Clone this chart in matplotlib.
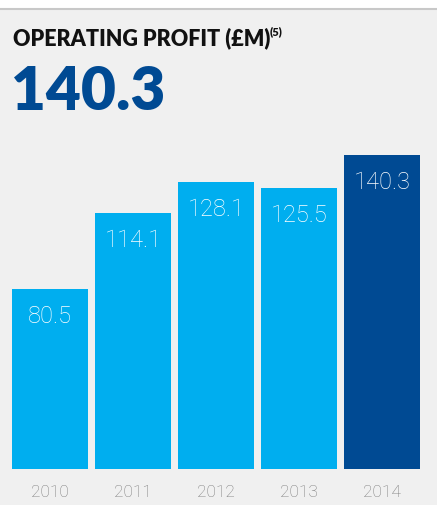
import matplotlib
matplotlib.use('Agg')
import numpy as np
from matplotlib import pyplot as plt

years = ['2010', '2011', '2012', '2013', '2014']
profit = [80.5, 114.1, 128.1, 125.5, 140.3]
headline = '140.3'

LIGHT = '#00aeef'
DARK = '#004a93'
BG = '#f0f0f0'
THIN = ['Roboto', 'Lato', 'DejaVu Sans']

W, H = 437, 506
fig = plt.figure(figsize=(W / 100, H / 100), dpi=100)
fig.patch.set_facecolor(BG)

# white strip + thin rule at the very top
fig.patches.append(plt.Rectangle((0, 1 - 9 / H), 1, 9 / H, transform=fig.transFigure,
                                 facecolor='white', edgecolor='none'))
fig.add_artist(plt.Line2D([0, 1], [1 - 10 / H] * 2, transform=fig.transFigure,
                          color='#c8c8c8', lw=1.5))

# axes box in pixel terms
left, right, bottom, top = 12, 420, H - 470, H - 150
ax = fig.add_axes([left / W, bottom / H, (right - left) / W, (top - bottom) / H])
ax.set_facecolor(BG)

x = np.arange(len(years))
width = 76 / 83
colors = [LIGHT] * (len(years) - 1) + [DARK]
ax.bar(x, profit, width=width, color=colors)
ax.set_xlim(-width / 2, len(years) - 1 + width / 2)
ax.set_ylim(0, (top - bottom) / 2.24)

for xi, v in zip(x, profit):
    ax.annotate('{}'.format(v), (xi, v), xytext=(0, -15), textcoords='offset pixels',
                ha='center', va='top', color='white', fontsize=17,
                family=THIN, weight='light')

ax.set_xticks(x)
ax.set_xticklabels(years)
ax.tick_params(axis='x', length=0, pad=11, labelsize=12.5, labelcolor='#7c7c7c')
for lab in ax.get_xticklabels():
    lab.set_family(THIN)
    lab.set_weight('light')
ax.set_yticks([])
for s in ax.spines.values():
    s.set_visible(False)

fig.text(13 / W, 1 - 45 / H, 'OPERATING PROFIT (£M)', fontsize=15.5, weight='heavy',
         family='Lato', color='#111111', va='baseline')
fig.text(270 / W, 1 - 35 / H, '(5)', fontsize=8, weight='heavy',
         family='Lato', color='#111111', va='baseline')
fig.text(11 / W, 1 - 110 / H, headline, fontsize=43.5, weight='heavy',
         family='Lato', color=DARK, va='baseline')

fig.savefig('out.png', dpi=100, facecolor=BG)
